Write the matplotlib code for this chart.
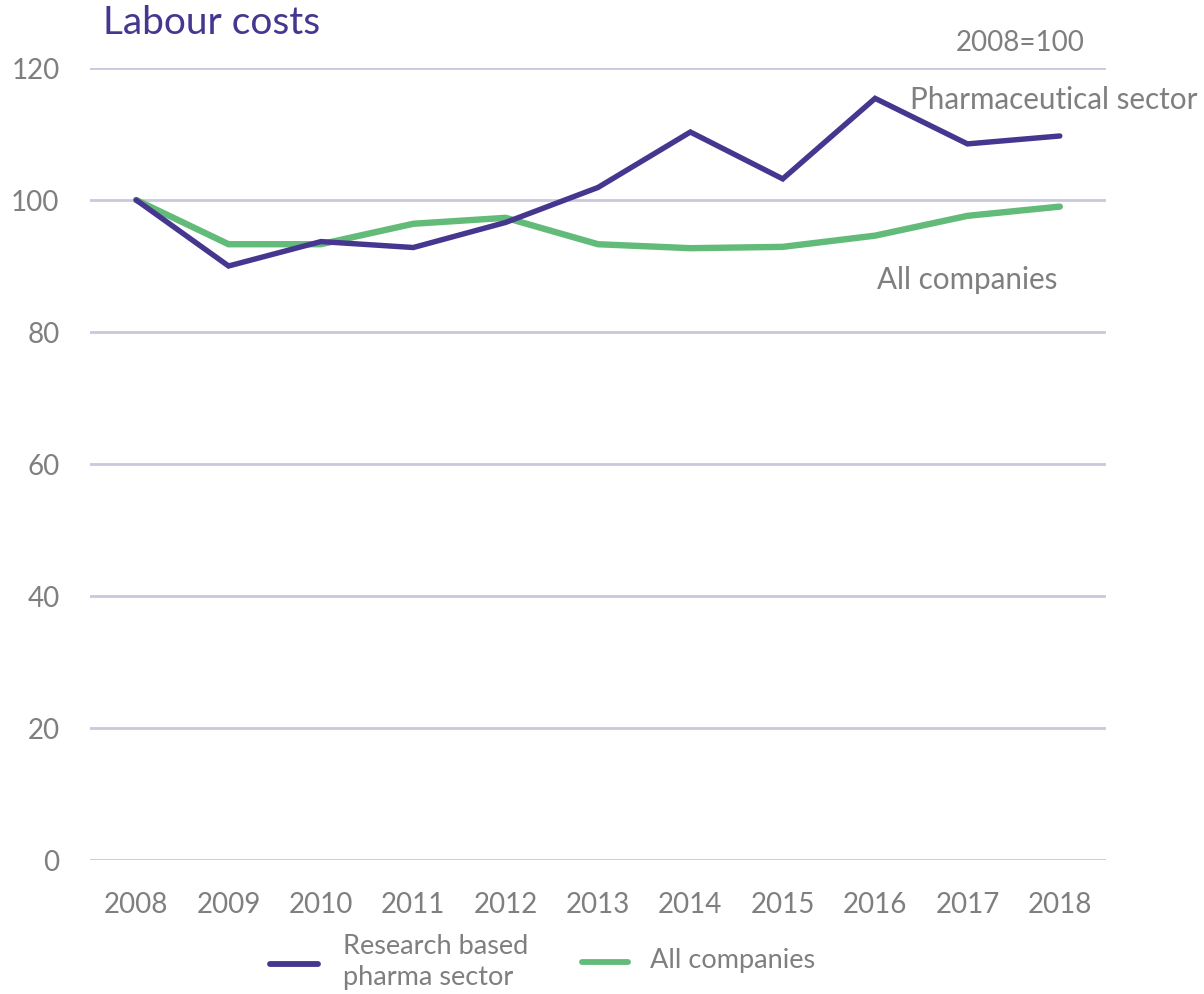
import matplotlib
matplotlib.use("Agg")
import matplotlib.pyplot as plt
from matplotlib.lines import Line2D

plt.rcParams['font.family'] = ['Lato', 'DejaVu Sans']

years = ["2008", "2009", "2010", "2011", "2012", "2013",
         "2014", "2015", "2016", "2017", "2018"]
pharma = [100.0, 90.0, 93.7, 92.8, 96.6, 101.9, 110.3, 103.2, 115.4, 108.5, 109.7]
all_companies = [100.0, 93.3, 93.3, 96.4, 97.3, 93.3, 92.7, 92.9, 94.6, 97.6, 99.0]
y_ticks = [0, 20, 40, 60, 80, 100, 120]

PURPLE = '#46368f'
GREEN = '#62bb78'
GREY = '#7f7f7f'
GRID = '#cac8dc'

fig = plt.figure(figsize=(12.04, 9.95), dpi=100)
ax = fig.add_axes([90 / 1204, 1 - 861 / 995, 1016 / 1204, 792 / 995])

x = list(range(len(years)))
ax.plot(x, all_companies, color=GREEN, lw=4.6, solid_capstyle='round',
        solid_joinstyle='miter', zorder=3)
ax.plot(x, pharma, color=PURPLE, lw=3.9, solid_capstyle='round',
        solid_joinstyle='miter', zorder=4)

ax.set_xlim(-0.5, len(years) - 0.5)
ax.set_ylim(0, 120)
ax.set_yticks(y_ticks)
ax.set_xticks(x)
ax.set_xticklabels(years)
for y in y_ticks:
    ax.axhline(y, color=GRID, lw=2.0, zorder=1)
for s in ax.spines.values():
    s.set_visible(False)
ax.tick_params(axis='both', length=0, labelsize=20, labelcolor=GREY)
ax.tick_params(axis='y', pad=22)
ax.tick_params(axis='x', pad=22)

fig.text(103 / 1204, 1 - 23 / 995, "Labour costs", color=PURPLE, fontsize=28,
         ha='left', va='center')
fig.text(1085 / 1204, 1 - 43 / 995, "2008=100", color=GREY, fontsize=20,
         ha='right', va='center')
fig.text(910 / 1204, 1 - 100 / 995, "Pharmaceutical sector", color=GREY,
         fontsize=21.3, ha='left', va='center')
fig.text(877 / 1204, 1 - 280 / 995, "All companies", color=GREY,
         fontsize=21.3, ha='left', va='center')

# Legend below the axes
fig.add_artist(Line2D([270 / 1204, 318 / 1204], [1 - 965 / 995] * 2,
                      color=PURPLE, lw=4.2, solid_capstyle='round'))
fig.text(343 / 1204, 1 - 962 / 995, "Research based\npharma sector",
         color=GREY, fontsize=19.5, ha='left', va='center', linespacing=1.3)
fig.add_artist(Line2D([582 / 1204, 628 / 1204], [1 - 963 / 995] * 2,
                      color=GREEN, lw=4.2, solid_capstyle='round'))
fig.text(650 / 1204, 1 - 961 / 995, "All companies", color=GREY, fontsize=19.5,
         ha='left', va='center')

fig.savefig("out.png", dpi=100)
